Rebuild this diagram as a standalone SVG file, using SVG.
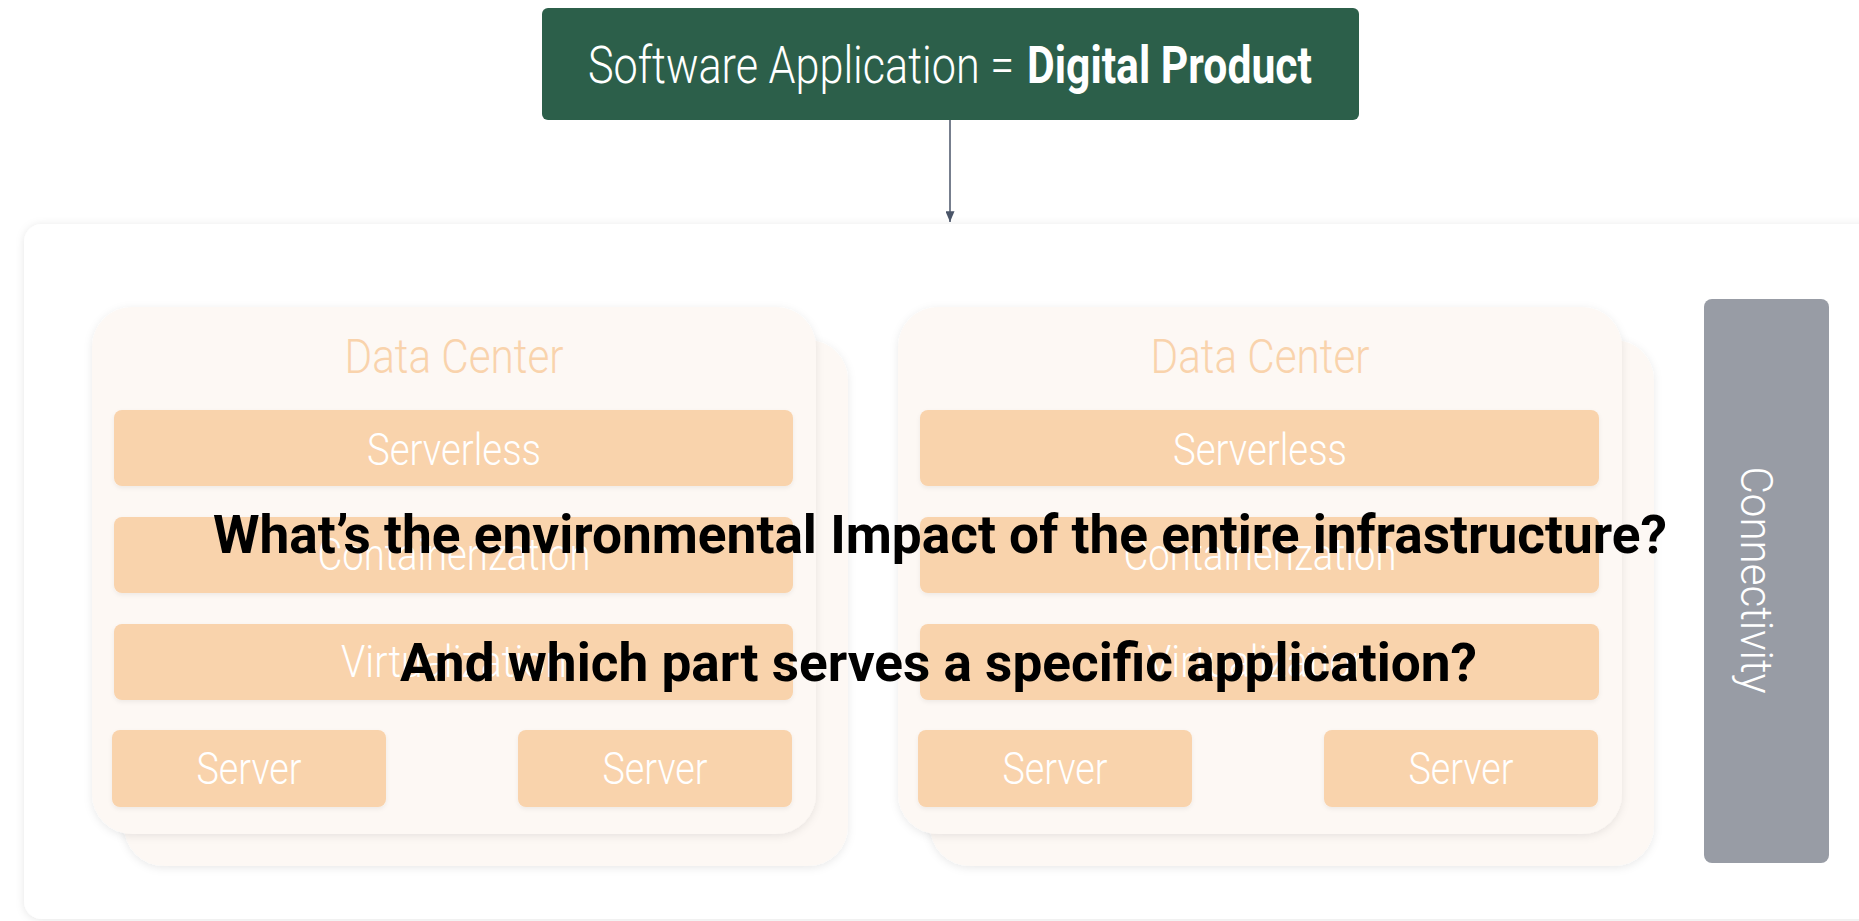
<svg xmlns="http://www.w3.org/2000/svg" width="1859" height="921" viewBox="0 0 1859 921">
  <defs>
    <filter id="shContainer" x="-5%" y="-5%" width="110%" height="110%">
      <feDropShadow dx="0" dy="1" stdDeviation="4" flood-color="#000" flood-opacity="0.10"/>
    </filter>
    <filter id="shCard" x="-10%" y="-10%" width="120%" height="120%">
      <feDropShadow dx="0" dy="2" stdDeviation="4" flood-color="#000" flood-opacity="0.09"/>
    </filter>
    <filter id="shBar" x="-5%" y="-20%" width="110%" height="140%">
      <feDropShadow dx="0" dy="2" stdDeviation="2" flood-color="#000" flood-opacity="0.06"/>
    </filter>
    <marker id="arrow" viewBox="0 0 12 10" refX="12" refY="5" markerWidth="12" markerHeight="9" markerUnits="userSpaceOnUse" orient="auto">
      <path d="M0,0 L12,5 L0,10 Z" fill="#4a5568"/>
    </marker>
  </defs>
  <style>
    .card { fill: #fdf8f4; filter: url(#shCard); }
    .bar { fill: #f9d3ac; filter: url(#shBar); }
    .dc { font-family: Roboto, "Liberation Sans", sans-serif; font-weight: 300; font-size: 49px; fill: #f9d3ac; text-anchor: middle; }
    .lbl { font-family: Roboto, "Liberation Sans", sans-serif; font-weight: 300; font-size: 44px; fill: #ffffff; text-anchor: middle; }
    .big { font-family: Roboto, "Liberation Sans", sans-serif; font-weight: 700; font-size: 54px; fill: #000000; }
    .title { font-family: Roboto, "Liberation Sans", sans-serif; font-size: 52px; fill: #ffffff; }
  </style>
  <rect width="1859" height="921" fill="#ffffff"/>

  <g id="container">
    <rect x="24" y="224" width="1870" height="695" rx="18" fill="#ffffff" filter="url(#shContainer)"/>
  </g>

  <g id="software-application">
    <rect x="542" y="8" width="817" height="112" rx="6" fill="#2c5f4a"/>
    <text class="title" y="83"><tspan x="588" font-weight="300" textLength="426" lengthAdjust="spacingAndGlyphs">Software Application =</tspan><tspan x="1027" font-weight="700" textLength="285" lengthAdjust="spacingAndGlyphs">Digital Product</tspan></text>
  </g>

  <g id="data-center-1">
    <rect class="card" x="124" y="340" width="724" height="526" rx="40"/>
    <rect class="card" x="92" y="307" width="724" height="527" rx="40"/>
    <text class="dc" x="454" y="373" textLength="219" lengthAdjust="spacingAndGlyphs">Data Center</text>
    <g id="dc1-serverless"><rect class="bar" x="114" y="410" width="679" height="76" rx="8"/><text class="lbl" x="454" y="465" textLength="174" lengthAdjust="spacingAndGlyphs">Serverless</text></g>
    <g id="dc1-containerization"><rect class="bar" x="114" y="517" width="679" height="76" rx="8"/><text class="lbl" x="454" y="570" textLength="273" lengthAdjust="spacingAndGlyphs">Containerization</text></g>
    <g id="dc1-virtualization"><rect class="bar" x="114" y="624" width="679" height="76" rx="8"/><text class="lbl" x="454" y="677" textLength="226" lengthAdjust="spacingAndGlyphs">Virtualization</text></g>
    <g id="dc1-server-1"><rect class="bar" x="112" y="730" width="274" height="77" rx="8"/><text class="lbl" x="249" y="784" textLength="105" lengthAdjust="spacingAndGlyphs">Server</text></g>
    <g id="dc1-server-2"><rect class="bar" x="518" y="730" width="274" height="77" rx="8"/><text class="lbl" x="655" y="784" textLength="105" lengthAdjust="spacingAndGlyphs">Server</text></g>
  </g>

  <g id="data-center-2">
    <rect class="card" x="930" y="340" width="724" height="526" rx="40"/>
    <rect class="card" x="898" y="307" width="724" height="527" rx="40"/>
    <text class="dc" x="1260" y="373" textLength="219" lengthAdjust="spacingAndGlyphs">Data Center</text>
    <g id="dc2-serverless"><rect class="bar" x="920" y="410" width="679" height="76" rx="8"/><text class="lbl" x="1260" y="465" textLength="174" lengthAdjust="spacingAndGlyphs">Serverless</text></g>
    <g id="dc2-containerization"><rect class="bar" x="920" y="517" width="679" height="76" rx="8"/><text class="lbl" x="1260" y="570" textLength="273" lengthAdjust="spacingAndGlyphs">Containerization</text></g>
    <g id="dc2-virtualization"><rect class="bar" x="920" y="624" width="679" height="76" rx="8"/><text class="lbl" x="1260" y="677" textLength="226" lengthAdjust="spacingAndGlyphs">Virtualization</text></g>
    <g id="dc2-server-1"><rect class="bar" x="918" y="730" width="274" height="77" rx="8"/><text class="lbl" x="1055" y="784" textLength="105" lengthAdjust="spacingAndGlyphs">Server</text></g>
    <g id="dc2-server-2"><rect class="bar" x="1324" y="730" width="274" height="77" rx="8"/><text class="lbl" x="1461" y="784" textLength="105" lengthAdjust="spacingAndGlyphs">Server</text></g>
  </g>

  <g id="connectivity">
    <rect x="1704" y="299" width="125" height="564" rx="8" fill="#989ca5"/>
    <text transform="translate(1741,580) rotate(90)" x="0" y="0" font-family="Roboto, 'Liberation Sans', sans-serif" font-weight="300" font-size="45" fill="#ffffff" text-anchor="middle" textLength="227" lengthAdjust="spacingAndGlyphs">Connectivity</text>
  </g>

  <g id="connectors">
    <line x1="950" y1="120" x2="950" y2="222" stroke="#4a5568" stroke-width="1.5" marker-end="url(#arrow)"/>
  </g>

  <g id="questions">
    <text class="big" x="213" y="553" textLength="1454" lengthAdjust="spacingAndGlyphs">What’s the environmental Impact of the entire infrastructure?</text>
    <text class="big" x="400" y="681" textLength="1077" lengthAdjust="spacingAndGlyphs">And which part serves a specific application?</text>
  </g>
</svg>
